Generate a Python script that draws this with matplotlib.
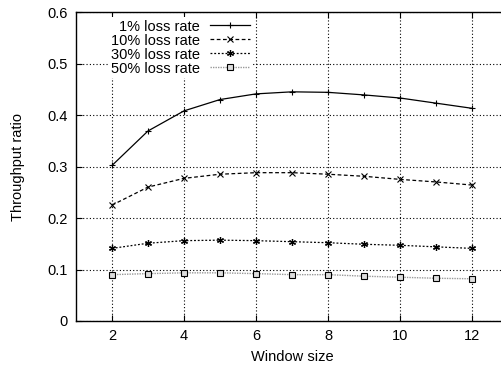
import matplotlib
matplotlib.use('Agg')
import matplotlib.pyplot as plt

plt.rcParams['font.family'] = ['Liberation Sans', 'DejaVu Sans']
plt.rcParams['font.size'] = 10.5

window = [2, 3, 4, 5, 6, 7, 8, 9, 10, 11, 12]
loss_1 = [0.302, 0.369, 0.408, 0.430, 0.441, 0.445, 0.444, 0.439, 0.433, 0.423, 0.413]
loss_10 = [0.225, 0.260, 0.277, 0.285, 0.288, 0.288, 0.285, 0.281, 0.275, 0.270, 0.264]
loss_30 = [0.141, 0.151, 0.156, 0.157, 0.156, 0.154, 0.152, 0.149, 0.147, 0.144, 0.141]
loss_50 = [0.090, 0.092, 0.0935, 0.0935, 0.092, 0.090, 0.090, 0.087, 0.085, 0.083, 0.082]

fig = plt.figure(figsize=(5.02, 3.65), dpi=100)
ax = fig.add_axes([76 / 502, 44 / 365, 432 / 502, 309 / 365])

ax.plot(window, loss_1, color='black', lw=0.9, marker='+', ms=5, mew=0.8,
        label='1% loss rate')
ax.plot(window, loss_10, color='black', lw=0.9, ls=(0, (3, 2)), marker='x', ms=4,
        mew=0.8, label='10% loss rate')
ax.plot(window, loss_30, color='black', lw=0.9, ls=(0, (1.5, 1.5)), marker=(6, 2, 0),
        ms=5, mew=0.9, label='30% loss rate')
ax.plot(window, loss_50, color='#999999', lw=1.0, ls=(0, (1, 0.8)), marker='s', ms=3.8,
        mfc='#dddddd', mec='black', mew=0.8, label='50% loss rate')

ax.set_xlim(1, 13)
ax.set_ylim(0, 0.6)
ax.set_xticks([2, 4, 6, 8, 10, 12])
ax.set_yticks([0, 0.1, 0.2, 0.3, 0.4, 0.5, 0.6])
ax.set_yticklabels(['0', '0.1', '0.2', '0.3', '0.4', '0.5', '0.6'])
ax.grid(True, color='black', ls=(0, (1, 2)), lw=0.8)
ax.tick_params(direction='in', top=True, right=True, length=4, width=0.8, pad=6)
for s in ax.spines.values():
    s.set_linewidth(1.0)

ax.set_xlabel('Window size', labelpad=5)
ax.set_ylabel('Throughput ratio', labelpad=16)

leg = ax.legend(loc='upper right', bbox_to_anchor=(0.41, 0.985), frameon=True,
                markerfirst=False, handlelength=2.75, handletextpad=0.7,
                labelspacing=0.0, borderpad=0.2, borderaxespad=0)
leg.get_frame().set_edgecolor('none')
leg.get_frame().set_facecolor('white')
leg.get_frame().set_alpha(1.0)
leg.get_frame().set_boxstyle('square', pad=0)

fig.savefig('out.png', dpi=100)
